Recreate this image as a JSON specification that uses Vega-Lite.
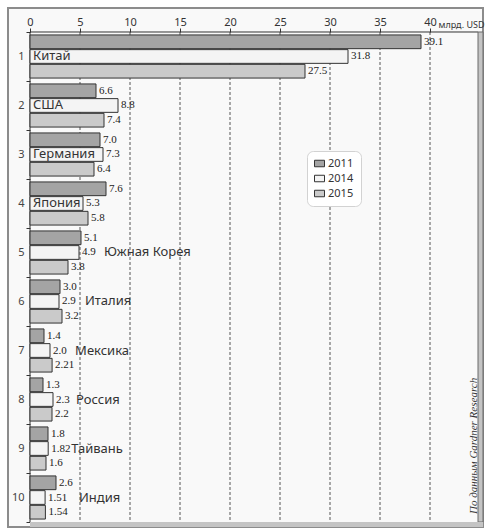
{
  "$schema": "https://vega.github.io/schema/vega-lite/v6.json",
  "width": 475,
  "height": 519,
  "autosize": {"type": "none"},
  "padding": {"left": 8, "top": 8, "right": 4, "bottom": 2},
  "background": "white",
  "config": {
    "view": {"fill": "#f9f9f9", "stroke": "#8c8c8c", "strokeWidth": 2},
    "font": "Noto Sans"
  },
  "datasets": {
    "exports": [
      {"rank": 1, "country": "Китай", "year": "2011", "value": 39.1},
      {"rank": 1, "country": "Китай", "year": "2014", "value": 31.8},
      {"rank": 1, "country": "Китай", "year": "2015", "value": 27.5},
      {"rank": 2, "country": "США", "year": "2011", "value": 6.6},
      {"rank": 2, "country": "США", "year": "2014", "value": 8.8},
      {"rank": 2, "country": "США", "year": "2015", "value": 7.4},
      {"rank": 3, "country": "Германия", "year": "2011", "value": 7.0},
      {"rank": 3, "country": "Германия", "year": "2014", "value": 7.3},
      {"rank": 3, "country": "Германия", "year": "2015", "value": 6.4},
      {"rank": 4, "country": "Япония", "year": "2011", "value": 7.6},
      {"rank": 4, "country": "Япония", "year": "2014", "value": 5.3},
      {"rank": 4, "country": "Япония", "year": "2015", "value": 5.8},
      {"rank": 5, "country": "Южная Корея", "year": "2011", "value": 5.1},
      {"rank": 5, "country": "Южная Корея", "year": "2014", "value": 4.9},
      {"rank": 5, "country": "Южная Корея", "year": "2015", "value": 3.8},
      {"rank": 6, "country": "Италия", "year": "2011", "value": 3.0},
      {"rank": 6, "country": "Италия", "year": "2014", "value": 2.9},
      {"rank": 6, "country": "Италия", "year": "2015", "value": 3.2},
      {"rank": 7, "country": "Мексика", "year": "2011", "value": 1.4},
      {"rank": 7, "country": "Мексика", "year": "2014", "value": 2.0},
      {"rank": 7, "country": "Мексика", "year": "2015", "value": 2.21},
      {"rank": 8, "country": "Россия", "year": "2011", "value": 1.3},
      {"rank": 8, "country": "Россия", "year": "2014", "value": 2.3},
      {"rank": 8, "country": "Россия", "year": "2015", "value": 2.2},
      {"rank": 9, "country": "Тайвань", "year": "2011", "value": 1.8},
      {"rank": 9, "country": "Тайвань", "year": "2014", "value": 1.82},
      {"rank": 9, "country": "Тайвань", "year": "2015", "value": 1.6},
      {"rank": 10, "country": "Индия", "year": "2011", "value": 2.6},
      {"rank": 10, "country": "Индия", "year": "2014", "value": 1.51},
      {"rank": 10, "country": "Индия", "year": "2015", "value": 1.54}
    ],
    "gridTicks": [
      {"v": 5}, {"v": 10}, {"v": 15}, {"v": 20},
      {"v": 25}, {"v": 30}, {"v": 35}, {"v": 40}
    ]
  },
  "layer": [
    {
      "data": {"name": "gridTicks"},
      "mark": {"type": "rule", "color": "#555555", "strokeWidth": 1, "strokeDash": [3, 2]},
      "encoding": {
        "x": {"field": "v", "type": "quantitative"},
        "y": {"datum": 1, "type": "ordinal", "bandPosition": 0},
        "y2": {"datum": 10, "bandPosition": 1}
      }
    },
    {
      "data": {"values": [{}]},
      "mark": {"type": "rule", "color": "#333333", "strokeWidth": 1},
      "encoding": {
        "x": {"datum": 0, "type": "quantitative"},
        "y": {"datum": 1, "type": "ordinal", "bandPosition": 0},
        "y2": {"datum": 10, "bandPosition": 1}
      }
    },
    {
      "data": {"values": [{}]},
      "mark": {"type": "rule", "color": "#333333", "strokeWidth": 1},
      "encoding": {
        "x": {"datum": 0, "type": "quantitative"},
        "x2": {"datum": 44.8},
        "y": {"datum": 1, "type": "ordinal", "bandPosition": 0}
      }
    },
    {
      "data": {"values": [{}]},
      "mark": {"type": "rect", "fill": "#c4c4c4", "stroke": "#6b6b6b", "strokeWidth": 1},
      "encoding": {
        "x": {"datum": 44.8, "type": "quantitative"},
        "x2": {"datum": 45.3},
        "y": {"datum": 1, "type": "ordinal", "bandPosition": 0},
        "y2": {"datum": 10, "bandPosition": 1}
      }
    },
    {
      "data": {"values": [{}]},
      "mark": {"type": "rule", "color": "#c4c4c4", "strokeWidth": 5, "yOffset": 2.5},
      "encoding": {
        "x": {"datum": 0, "type": "quantitative"},
        "x2": {"datum": 45.3},
        "y": {"datum": 10, "type": "ordinal", "bandPosition": 1}
      }
    },
    {
      "data": {"values": [{"note": "По данным Gardner Research"}]},
      "mark": {
        "type": "text",
        "angle": 270,
        "align": "left",
        "baseline": "middle",
        "dx": 8,
        "font": "Liberation Serif",
        "fontStyle": "italic",
        "fontSize": 11,
        "color": "#333333"
      },
      "encoding": {
        "x": {"datum": 44.4, "type": "quantitative"},
        "y": {"datum": 10, "type": "ordinal", "bandPosition": 1},
        "text": {"field": "note"}
      }
    },
    {
      "data": {"name": "exports"},
      "mark": {"type": "bar", "stroke": "#333333", "strokeWidth": 1},
      "encoding": {
        "x": {
          "field": "value",
          "type": "quantitative",
          "scale": {"domain": [-2.2, 45.3], "nice": false, "zero": false},
          "axis": {
            "orient": "top",
            "offset": -24,
            "values": [0, 5, 10, 15, 20, 25, 30, 35, 40],
            "domain": false,
            "grid": false,
            "tickSize": 4,
            "tickColor": "#333333",
            "labelPadding": 1,
            "labelFontSize": 11,
            "labelColor": "#333333",
            "labelFlush": false,
            "title": "млрд. USD",
            "titleX": 430,
            "titleY": -5,
            "titleAlign": "left",
            "titleBaseline": "alphabetic",
            "titleFontSize": 9,
            "titleFontWeight": "normal",
            "titleColor": "#333333"
          }
        },
        "x2": {"datum": 0},
        "y": {
          "field": "rank",
          "type": "ordinal",
          "scale": {"paddingInner": 0, "paddingOuter": 0.2959, "align": 0.8276},
          "axis": {
            "orient": "left",
            "offset": -22,
            "title": null,
            "domain": false,
            "grid": false,
            "tickBand": "extent",
            "tickSize": 4,
            "tickColor": "#333333",
            "labelPadding": 2,
            "labelFontSize": 11,
            "labelColor": "#444444"
          }
        },
        "yOffset": {
          "field": "year",
          "type": "nominal",
          "scale": {"paddingInner": 0.0667, "paddingOuter": 0.2}
        },
        "color": {
          "field": "year",
          "type": "nominal",
          "scale": {"domain": ["2011", "2014", "2015"], "range": ["#a4a4a4", "#f4f4f4", "#cacaca"]},
          "legend": {
            "orient": "none",
            "legendX": 299,
            "legendY": 143,
            "title": null,
            "fillColor": "white",
            "strokeColor": "#d2d2d2",
            "cornerRadius": 6,
            "padding": 7,
            "symbolType": "M-1,-0.65H1V0.65H-1Z",
            "symbolSize": 100,
            "symbolStrokeColor": "#333333",
            "symbolStrokeWidth": 1,
            "labelFontSize": 11,
            "labelColor": "#333333",
            "labelOffset": 3,
            "rowPadding": 3
          }
        }
      }
    },
    {
      "data": {"name": "exports"},
      "mark": {
        "type": "text",
        "align": "left",
        "baseline": "middle",
        "dx": 3,
        "font": "Liberation Sans Narrow",
        "fontSize": 11,
        "color": "#222222",
        "text": {"expr": "slice(format(datum.value, '.2f'), -1) == '0' ? slice(format(datum.value, '.2f'), 0, -1) : format(datum.value, '.2f')"}
      },
      "encoding": {
        "x": {"field": "value", "type": "quantitative"},
        "y": {"field": "rank", "type": "ordinal"},
        "yOffset": {"field": "year", "type": "nominal"}
      }
    },
    {
      "data": {"name": "exports"},
      "transform": [
        {"filter": "datum.year == '2014' && datum.rank <= 4"}
      ],
      "mark": {
        "type": "text",
        "align": "left",
        "baseline": "middle",
        "dx": 3,
        "fontSize": 13,
        "color": "#333333"
      },
      "encoding": {
        "x": {"datum": 0, "type": "quantitative"},
        "y": {"field": "rank", "type": "ordinal"},
        "text": {"field": "country"}
      }
    },
    {
      "data": {"name": "exports"},
      "transform": [
        {"joinaggregate": [{"op": "max", "field": "value", "as": "groupMax"}], "groupby": ["rank"]},
        {"filter": "datum.year == '2014' && datum.rank > 4"}
      ],
      "mark": {
        "type": "text",
        "align": "left",
        "baseline": "middle",
        "dx": 23,
        "fontSize": 13,
        "color": "#333333"
      },
      "encoding": {
        "x": {"field": "groupMax", "type": "quantitative"},
        "y": {"field": "rank", "type": "ordinal"},
        "text": {"field": "country"}
      }
    }
  ]
}
